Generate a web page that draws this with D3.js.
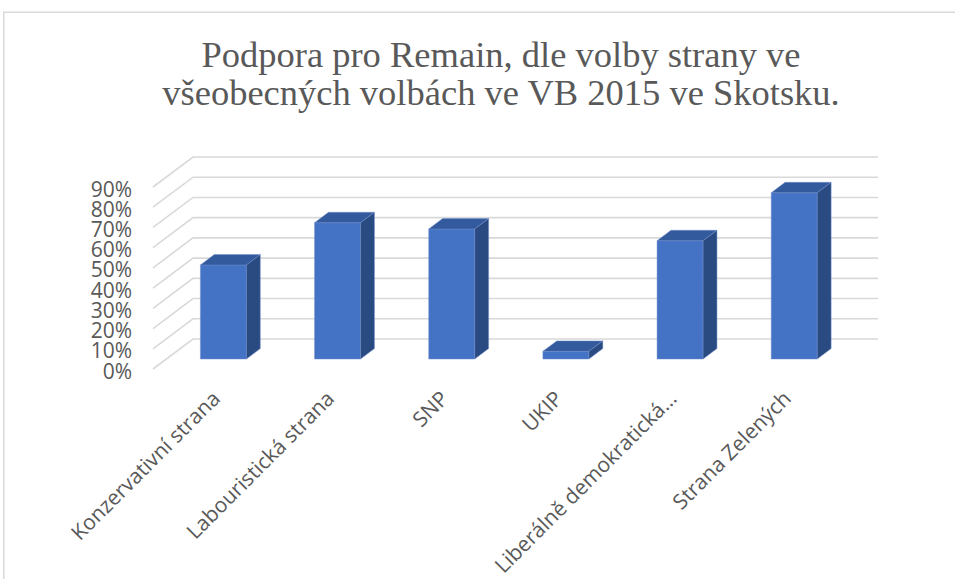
<!DOCTYPE html>
<html>
<head>
<meta charset="utf-8">
<script src="https://cdn.jsdelivr.net/npm/d3@7"></script>
<style>
  html, body { margin: 0; padding: 0; background: #fff; }
  svg { display: block; }
</style>
</head>
<body>
<svg id="chart" width="955" height="579"></svg>
<script>
const titleLines = ["Podpora pro Remain, dle volby strany ve", "všeobecných volbách ve VB 2015 ve Skotsku."];
const categories = ["Konzervativní strana", "Labouristická strana", "SNP", "UKIP", "Liberálně demokratická…", "Strana Zelených"];
const values = [0.465, 0.674, 0.643, 0.038, 0.585, 0.822];
const tickValues = [0, 0.1, 0.2, 0.3, 0.4, 0.5, 0.6, 0.7, 0.8, 0.9];

const svg = d3.select("#chart");

// frame
svg.append("path")
  .attr("d", "M3.75,579 L3.75,12.25 L955,12.25")
  .attr("fill", "none").attr("stroke", "#d9d9d9").attr("stroke-width", 1.5);

// title
const title = svg.append("text")
  .attr("text-anchor", "middle")
  .attr("font-family", "'Liberation Serif', 'Times New Roman', serif")
  .attr("font-size", 36.5)
  .attr("fill", "#595959");
titleLines.forEach((t, i) => {
  title.append("tspan").attr("x", 501).attr("y", 67 + i * 37.5).text(t);
});

// projection
const depth = { dx: 40, dy: -30 };
const barD0 = 0.333, barD1 = 0.68;
const x = d3.scaleBand().domain(categories).range([153, 838]).padding(0);
const y = d3.scaleLinear().domain([0, 0.9]).range([369, 187]);
const barFrac = 0.403;

// gridlines: left wall diagonals + back wall horizontals
const grid = svg.append("g").attr("stroke", "#d9d9d9").attr("stroke-width", 1.6).attr("fill", "none");
tickValues.forEach(v => {
  const yf = y(v);
  grid.append("path")
    .attr("d", `M${x.range()[0]},${yf} L${x.range()[0] + depth.dx},${yf + depth.dy} L${x.range()[1] + depth.dx},${yf + depth.dy}`);
});

// y-axis labels
svg.append("g")
  .attr("font-family", "'Open Sans', sans-serif")
  .attr("font-size", 21)
  .attr("fill", "#595959")
  .attr("text-anchor", "end")
  .selectAll("text").data(tickValues).join("text")
  .attr("x", 132)
  .attr("y", d => y(d) + 9.5)
  .text(d => d3.format(".0%")(d));

// bars
const bars = svg.append("g");
categories.forEach((c, i) => {
  const v = values[i];
  const bw = x.bandwidth() * barFrac;
  const xl = x(c) + (x.bandwidth() - bw) / 2 + depth.dx * barD0;
  const xr = xl + bw;
  const yb = y(0) + depth.dy * barD0;
  const yt = y(v) + depth.dy * barD0;
  const ddx = depth.dx * (barD1 - barD0), ddy = depth.dy * (barD1 - barD0);
  const g = bars.append("g").attr("stroke", "#6f8fce").attr("stroke-width", 0.5).attr("stroke-linejoin", "round");
  g.append("polygon").attr("fill", "#4472c4")
    .attr("points", [[xl, yt], [xr, yt], [xr, yb], [xl, yb]].join(" "));
  g.append("polygon").attr("fill", "#335a9c")
    .attr("points", [[xl, yt], [xr, yt], [xr + ddx, yt + ddy], [xl + ddx, yt + ddy]].join(" "));
  g.append("polygon").attr("fill", "#2a4a82")
    .attr("points", [[xr, yt], [xr + ddx, yt + ddy], [xr + ddx, yb + ddy], [xr, yb]].join(" "));
});

// category labels
svg.append("g")
  .attr("font-family", "'Open Sans', sans-serif")
  .attr("font-size", 21)
  .attr("fill", "#595959")
  .attr("text-anchor", "end")
  .selectAll("text").data(categories).join("text")
  .attr("transform", d => {
    const cx = x(d) + x.bandwidth() / 2 + depth.dx * barD0;
    return `translate(${cx - 2},${y(0) + 31}) rotate(-45)`;
  })
  .text(d => d);
</script>
</body>
</html>
